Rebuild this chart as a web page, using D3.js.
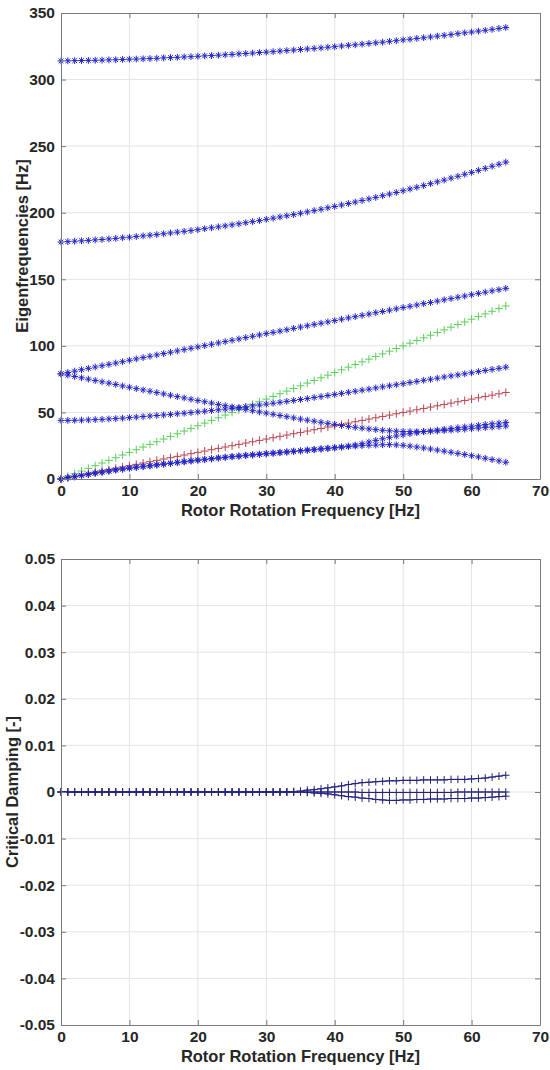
<!DOCTYPE html>
<html>
<head>
<meta charset="utf-8">
<script src="https://cdn.jsdelivr.net/npm/d3@7"></script>
<style>
  html, body { margin: 0; padding: 0; background: #fff; }
  svg { display: block; }
  text { font-family: "Liberation Sans", Arial, sans-serif; font-weight: bold; fill: #262626; }
</style>
</head>
<body>
<svg id="chart" width="550" height="1070"></svg>
<script>
// Rotor speed sweep [Hz]
const freq = [0,1,2,3,4,5,6,7,8,9,10,11,12,13,14,15,16,17,18,19,20,21,22,23,24,25,26,27,28,29,30,31,32,33,34,35,36,37,38,39,40,41,42,43,44,45,46,47,48,49,50,51,52,53,54,55,56,57,58,59,60,61,62,63,64,65];

// Eigenfrequencies of the rotor modes [Hz]
const modeTop = [314.0,314.1,314.2,314.3,314.4,314.5,314.6,314.8,314.9,315.1,315.3,315.4,315.6,315.8,316.0,316.3,316.5,316.7,317.0,317.2,317.5,317.8,318.0,318.3,318.6,318.9,319.3,319.6,319.9,320.3,320.6,321.0,321.4,321.8,322.2,322.6,323.0,323.4,323.8,324.3,324.7,325.2,325.7,326.1,326.6,327.1,327.6,328.1,328.7,329.2,329.8,330.3,330.9,331.4,332.0,332.6,333.2,333.8,334.5,335.1,335.7,336.4,337.0,337.7,338.4,339.1];
const modeSecond = [178.0,178.3,178.6,178.9,179.2,179.6,179.9,180.3,180.7,181.2,181.6,182.1,182.6,183.1,183.6,184.2,184.8,185.4,186.0,186.6,187.3,188.0,188.7,189.4,190.1,190.9,191.7,192.5,193.3,194.1,195.0,195.9,196.8,197.7,198.6,199.6,200.6,201.6,202.6,203.7,204.7,205.8,206.9,208.0,209.2,210.4,211.5,212.8,214.0,215.2,216.5,217.8,219.1,220.4,221.8,223.2,224.5,226.0,227.4,228.9,230.3,231.8,233.3,234.9,236.4,238.0];
const modeForward = [79.0,80.0,81.0,82.1,83.1,84.1,85.1,86.1,87.1,88.1,89.2,90.2,91.2,92.2,93.2,94.2,95.2,96.2,97.2,98.2,99.2,100.2,101.2,102.2,103.2,104.2,105.2,106.2,107.2,108.2,109.2,110.1,111.1,112.1,113.1,114.1,115.1,116.1,117.0,118.0,119.0,120.0,121.0,121.9,122.9,123.9,124.9,125.8,126.8,127.8,128.8,129.7,130.7,131.7,132.6,133.6,134.6,135.5,136.5,137.4,138.4,139.4,140.3,141.3,142.2,143.2];
const modeMiddle = [44.0,44.0,44.1,44.2,44.4,44.6,44.8,45.1,45.4,45.7,46.1,46.5,46.9,47.3,47.7,48.1,48.5,49.0,49.4,49.9,50.4,50.9,51.4,52.0,52.5,53.1,53.7,54.3,54.9,55.5,56.2,56.9,57.6,58.3,59.0,59.7,60.4,61.2,61.9,62.7,63.5,64.3,65.1,65.9,66.7,67.5,68.4,69.2,70.0,70.8,71.6,72.5,73.3,74.1,74.9,75.7,76.6,77.4,78.2,79.0,79.8,80.7,81.5,82.3,83.1,84.0];
const modeBackward = [79.0,78.0,77.0,76.0,75.0,74.0,73.0,72.0,71.0,69.9,68.9,67.9,66.9,65.9,64.9,63.9,62.9,61.9,60.9,59.9,58.9,58.0,57.0,56.0,55.1,54.1,53.2,52.3,51.3,50.4,49.5,48.6,47.7,46.8,45.9,45.0,44.2,43.4,42.6,41.8,41.0,40.2,39.5,38.8,38.2,37.6,37.1,36.6,36.2,35.9,35.7,35.6,35.6,35.7,35.9,36.1,36.4,36.7,37.0,37.4,37.8,38.2,38.6,39.0,39.4,39.8];
const modeLowA = [0.0,0.8,1.6,2.5,3.3,4.2,5.0,5.8,6.6,7.3,8.0,8.6,9.2,9.8,10.4,11.0,11.6,12.2,12.8,13.4,14.0,14.5,15.0,15.6,16.1,16.6,17.0,17.5,17.9,18.4,18.8,19.2,19.7,20.1,20.6,21.0,21.5,21.9,22.4,22.8,23.3,23.8,24.3,24.7,25.0,25.3,25.5,25.7,25.8,25.6,25.3,24.7,24.0,23.3,22.5,21.7,20.9,20.1,19.2,18.4,17.5,16.6,15.6,14.6,13.6,12.6];
const modeLowB = [0.0,1.1,2.0,2.9,3.7,4.6,5.4,6.2,7.0,7.7,8.4,9.0,9.6,10.2,10.8,11.4,12.0,12.6,13.2,13.8,14.4,14.9,15.4,16.0,16.5,17.0,17.4,17.9,18.3,18.8,19.2,19.6,20.1,20.5,21.0,21.4,21.9,22.3,22.8,23.2,23.7,24.2,24.8,25.5,26.5,27.8,29.0,30.2,31.3,32.3,33.2,34.0,34.8,35.5,36.1,36.7,37.3,37.9,38.5,39.1,39.7,40.3,40.9,41.5,42.0,42.5];

// Excitation orders: 1x and 2x running speed
const order1x = [0,1,2,3,4,5,6,7,8,9,10,11,12,13,14,15,16,17,18,19,20,21,22,23,24,25,26,27,28,29,30,31,32,33,34,35,36,37,38,39,40,41,42,43,44,45,46,47,48,49,50,51,52,53,54,55,56,57,58,59,60,61,62,63,64,65];
const order2x = [0,2,4,6,8,10,12,14,16,18,20,22,24,26,28,30,32,34,36,38,40,42,44,46,48,50,52,54,56,58,60,62,64,66,68,70,72,74,76,78,80,82,84,86,88,90,92,94,96,98,100,102,104,106,108,110,112,114,116,118,120,122,124,126,128,130];

// Critical damping ratios [-]
const dampUpper = [0,0,0,0,0,0,0,0,0,0,0,0,0,0,0,0,0,0,0,0,0,0,0,0,0,0,0,0,0,0,0,0,0,0,0.0001,0.0002,0.0004,0.0005,0.0007,0.0009,0.0011,0.0013,0.0016,0.0018,0.0020,0.0021,0.0022,0.0023,0.0024,0.0024,0.0025,0.0025,0.0025,0.0026,0.0026,0.0026,0.0026,0.0027,0.0027,0.0027,0.0028,0.0029,0.0030,0.0032,0.0034,0.0036];
const dampCenter = [0,0,0,0,0,0,0,0,0,0,0,0,0,0,0,0,0,0,0,0,0,0,0,0,0,0,0,0,0,0,0,0,0,0,0,0,0,0,0,0,0,0,0,0,-0.0001,-0.0001,-0.0001,-0.0001,-0.0001,-0.0001,-0.0001,-0.0001,-0.0001,-0.0001,-0.0001,-0.0001,-0.0001,-0.0001,0,0,0,0,0,0,0,0];
const dampLower = [0,0,0,0,0,0,0,0,0,0,0,0,0,0,0,0,0,0,0,0,0,0,0,0,0,0,0,0,0,0,0,0,0,0,0,0,-0.0001,-0.0002,-0.0003,-0.0004,-0.0006,-0.0008,-0.0010,-0.0011,-0.0013,-0.0014,-0.0016,-0.0017,-0.0018,-0.0018,-0.0017,-0.0017,-0.0016,-0.0016,-0.0015,-0.0015,-0.0015,-0.0014,-0.0014,-0.0014,-0.0013,-0.0013,-0.0012,-0.0011,-0.0010,-0.0009];

// Tick values
const xTicks = [0,10,20,30,40,50,60,70];
const freqTicks = [0,50,100,150,200,250,300,350];
const dampTicks = [-0.05,-0.04,-0.03,-0.02,-0.01,0,0.01,0.02,0.03,0.04,0.05];

const blueModes = [modeTop, modeSecond, modeForward, modeMiddle, modeBackward, modeLowA, modeLowB];
const dampModes = [dampUpper, dampCenter, dampLower];

const svg = d3.select("#chart");
const left = 61, right = 540;
const topPanel = { top: 13, bottom: 479 };
const botPanel = { top: 559, bottom: 1025 };

const x = d3.scaleLinear().domain([0, 70]).range([left, right]);
const yF = d3.scaleLinear().domain([0, 350]).range([topPanel.bottom, topPanel.top]);
const yD = d3.scaleLinear().domain([-0.05, 0.05]).range([botPanel.bottom, botPanel.top]);

const fmtDamp = d => d === 0 ? "0" : (d < 0 ? "-" : "") + Math.abs(d).toFixed(2);

function drawGrid(y, yTicks, panel) {
  const g = svg.append("g");
  g.selectAll("line.vx").data(xTicks.slice(1, -1)).join("line")
    .attr("x1", d => x(d)).attr("x2", d => x(d))
    .attr("y1", panel.top).attr("y2", panel.bottom)
    .attr("stroke", "#e4e4e4").attr("stroke-width", 1);
  g.selectAll("line.hy").data(yTicks.slice(1, -1)).join("line")
    .attr("x1", left).attr("x2", right)
    .attr("y1", d => y(d)).attr("y2", d => y(d))
    .attr("stroke", "#e4e4e4").attr("stroke-width", 1);
}

function drawFrame(y, yTicks, panel, yFmt, yTitle, yTitleX, xTitle) {
  const axisColor = "#7a7a7a";
  const gl = svg.append("g").attr("transform", `translate(${left},0)`)
    .call(d3.axisLeft(y).tickValues(yTicks).tickFormat(yFmt).tickSize(-5).tickSizeOuter(0).tickPadding(6));
  const gr = svg.append("g").attr("transform", `translate(${right},0)`)
    .call(d3.axisRight(y).tickValues(yTicks).tickFormat("").tickSize(-5).tickSizeOuter(0));
  const gb = svg.append("g").attr("transform", `translate(0,${panel.bottom})`)
    .call(d3.axisBottom(x).tickValues(xTicks).tickFormat(d3.format("d")).tickSize(-5).tickSizeOuter(0).tickPadding(6));
  const gt = svg.append("g").attr("transform", `translate(0,${panel.top})`)
    .call(d3.axisTop(x).tickValues(xTicks).tickFormat("").tickSize(-5).tickSizeOuter(0));
  [gl, gr, gb, gt].forEach(g => {
    g.select(".domain").attr("stroke", axisColor).attr("stroke-width", 1);
    g.selectAll(".tick line").attr("stroke", axisColor);
    g.selectAll(".tick text")
      .style("font-family", '"Liberation Sans", Arial, sans-serif')
      .style("font-weight", "bold").style("font-size", "15.5px").attr("fill", "#262626");
  });
  svg.append("text")
    .attr("transform", `translate(${yTitleX},${(panel.top + panel.bottom) / 2}) rotate(-90)`)
    .attr("text-anchor", "middle").attr("dominant-baseline", "central")
    .style("font-size", "16.5px").text(yTitle);
  svg.append("text")
    .attr("x", (left + right) / 2).attr("y", panel.bottom + 31)
    .attr("text-anchor", "middle").attr("dominant-baseline", "central")
    .style("font-size", "16.5px").text(xTitle);
}

// Marker shapes
const plusPath = r => `M${-r},0H${r}M0,${-r}V${r}`;
const starPath = r => {
  const k = r * 0.7;
  return `M${-r},0H${r}M0,${-r}V${r}M${-k},${-k}L${k},${k}M${-k},${k}L${k},${-k}`;
};

// ---- Upper panel: eigenfrequencies ----
drawGrid(yF, freqTicks, topPanel);

const drawMarkers = (values, y, path, color, width) => {
  svg.append("g").selectAll("path").data(values).join("path")
    .attr("transform", (d, i) => `translate(${x(freq[i])},${y(d)})`)
    .attr("d", path).attr("fill", "none")
    .attr("stroke", color).attr("stroke-width", width);
};

drawMarkers(order2x, yF, plusPath(4), "#5ccf5c", 1);
drawMarkers(order1x, yF, plusPath(4), "#b8454f", 1);
blueModes.forEach(m => drawMarkers(m, yF, starPath(3.4), "#2424c8", 1));

drawFrame(yF, freqTicks, topPanel, d3.format("d"), "Eigenfrequencies [Hz]", 22, "Rotor Rotation Frequency [Hz]");

// ---- Lower panel: critical damping ----
drawGrid(yD, dampTicks, botPanel);

const dampLine = d3.line().x((d, i) => x(freq[i])).y(d => yD(d));
dampModes.forEach(m => {
  svg.append("path").datum(m).attr("d", dampLine)
    .attr("fill", "none").attr("stroke", "#2a2ad8").attr("stroke-width", 1);
  drawMarkers(m, yD, plusPath(3.8), "#23236e", 1);
});

drawFrame(yD, dampTicks, botPanel, fmtDamp, "Critical Damping [-]", 12, "Rotor Rotation Frequency [Hz]");
</script>
</body>
</html>
